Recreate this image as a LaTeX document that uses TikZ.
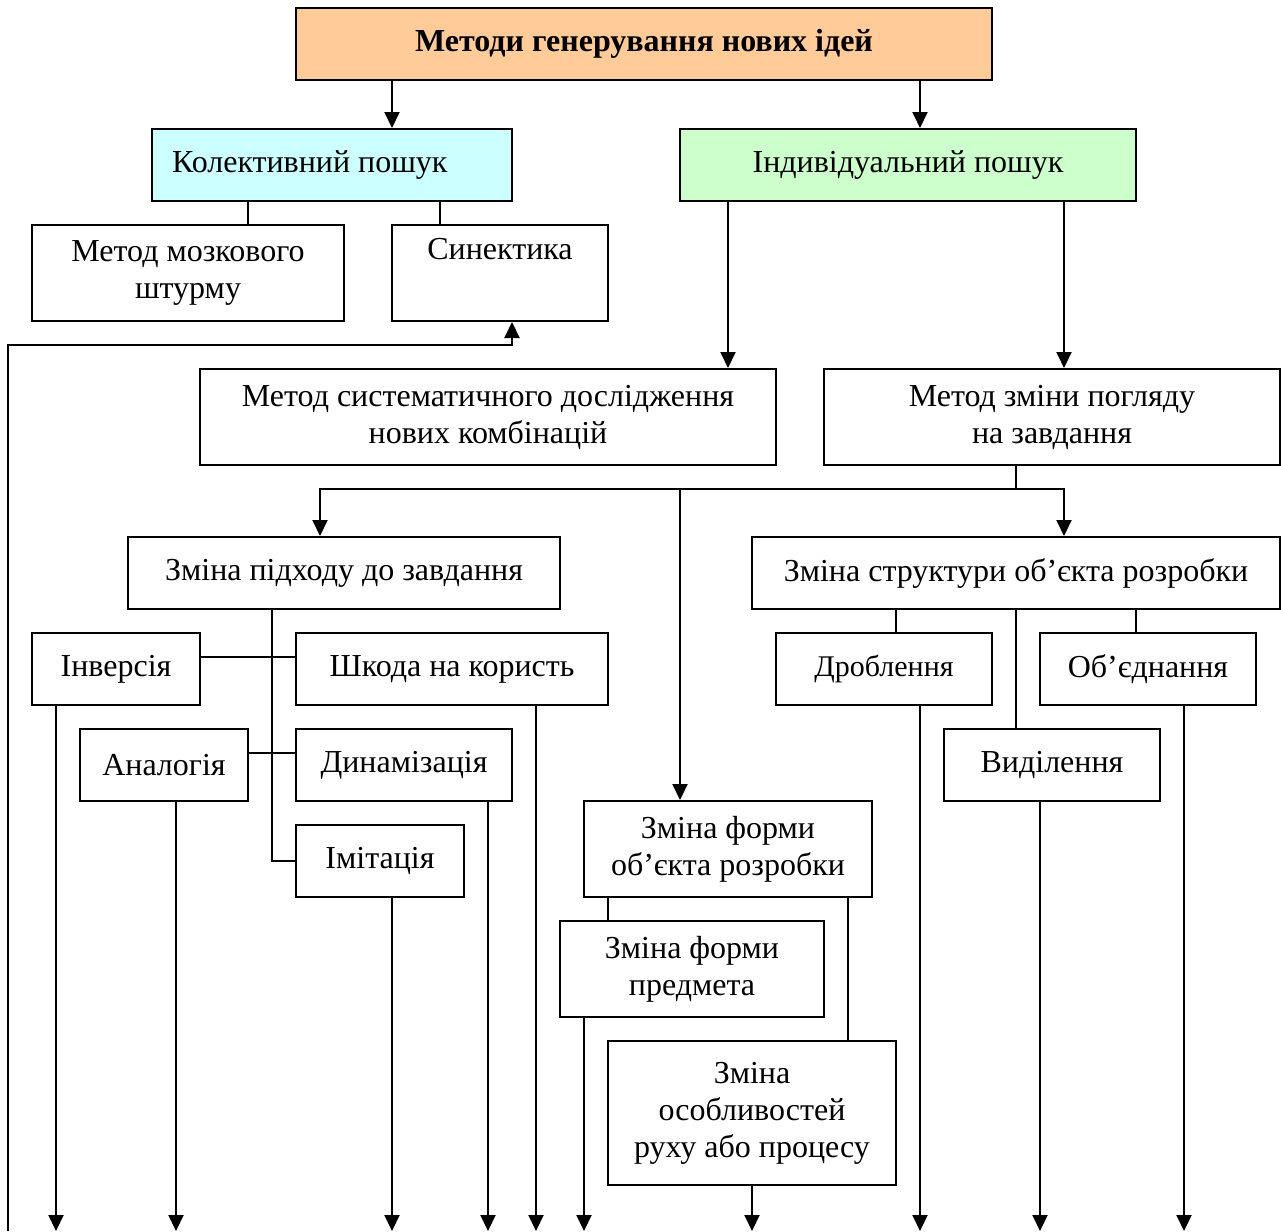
\documentclass[tikz,border=0pt]{standalone}
\usepackage{fontspec}
\setmainfont{Liberation Serif}
\usetikzlibrary{arrows.meta}

\definecolor{peach}{HTML}{FFCC99}
\definecolor{aqua}{HTML}{CCFFFF}
\definecolor{mint}{HTML}{CCFFCC}

\begin{document}
\begin{tikzpicture}
[x=1pt,y=-1pt,line width=2pt,
 every node/.style={draw,rectangle,align=center,inner sep=0pt,font=\fontsize{32}{37}\selectfont},
 arr/.style={-{Triangle[width=15pt,length=16pt]}}]
\useasboundingbox (0,0) rectangle (1281,1231);
%top level
\node[fill=peach,minimum width=696pt,minimum height=72pt,font=\bfseries\fontsize{32}{37}\selectfont] (top) at (644,44) {Методи генерування нових ідей};
\node[fill=aqua,text width=320pt,inner xsep=20pt,align=flush left,minimum height=72pt] (kol) at (332,165) {Колективний пошук};
\node[fill=mint,minimum width=456pt,minimum height=72pt] (ind) at (908,165) {Індивідуальний пошук};
\node[minimum width=312pt,minimum height=96pt] (brain) at (188,273) {Метод мозкового\\штурму};
\node[minimum width=216pt,minimum height=96pt] (sin) at (500,273) {Синектика\\\strut};
\node[minimum width=576pt,minimum height=96pt] (sys) at (488,417) {Метод систематичного дослідження\\нових комбінацій};
\node[minimum width=456pt,minimum height=96pt] (view) at (1052,417) {Метод зміни погляду\\на завдання};
%second level
\node[minimum width=432pt,minimum height=72pt] (appr) at (344,573) {Зміна підходу до завдання};
\node[minimum width=528pt,minimum height=72pt] (struct) at (1016,573) {Зміна структури об’єкта розробки};
\node[minimum width=168pt,minimum height=72pt] (inv) at (116,669) {Інверсія};
\node[minimum width=312pt,minimum height=72pt] (harm) at (452,669) {Шкода на користь};
\node[minimum width=168pt,minimum height=72pt] (anal) at (164,765) {Аналогія};
\node[minimum width=216pt,minimum height=72pt] (dyn) at (404,765) {Динамізація};
\node[minimum width=168pt,minimum height=72pt] (imit) at (380,861) {Імітація};
\node[minimum width=216pt,minimum height=72pt,font=\fontsize{30}{35}\selectfont] (frag) at (884,669) {Дроблення};
\node[minimum width=216pt,minimum height=72pt] (unite) at (1148,669) {Об’єднання};
\node[minimum width=216pt,minimum height=72pt] (sel) at (1052,765) {Виділення};
\node[minimum width=288pt,minimum height=96pt] (shape) at (728,849) {Зміна форми\\об’єкта розробки};
\node[minimum width=264pt,minimum height=96pt] (item) at (692,969) {Зміна форми\\предмета};
\node[minimum width=288pt,minimum height=144pt] (motion) at (752,1113) {Зміна\\особливостей\\руху або процесу};
\coordinate (base) at (0,1231);
\coordinate (split) at (1016,489);
%connectors
\draw[arr] (top.south -| 392,0) -- (kol.north -| 392,0);
\draw[arr] (top.south -| 920,0) -- (ind.north -| 920,0);
\draw (kol.south -| 248,0) -- (brain.north -| 248,0);
\draw (kol.south -| 440,0) -- (sin.north -| 440,0);
\draw[arr] (base -| 8,0) |- (345,345 -| 512,0) -- (sin.south -| 512,0);
\draw[arr] (ind.south -| 728,0) -- (sys.north -| 728,0);
\draw[arr] (ind.south -| 1064,0) -- (view.north -| 1064,0);
\draw (view.south -| split) -- (split);
\draw[arr] (split) -| (appr.north -| 320,0);
\draw[arr] (split) -| (struct.north -| 1064,0);
\draw[arr] (split -| 680,0) -- (shape.north -| 680,0);
\draw (appr.south -| 272,0) |- (imit.west);
\draw (inv.east |- 0,657) -- (harm.west |- 0,657);
\draw (anal.east |- 0,753) -- (dyn.west |- 0,753);
\draw (struct.south -| 896,0) -- (frag.north -| 896,0);
\draw (struct.south -| 1136,0) -- (unite.north -| 1136,0);
\draw (struct.south) -- (struct.south |- sel.north);
\draw (shape.south -| 608,0) -- (item.north -| 608,0);
\draw (shape.south -| 848,0) -- (motion.north -| 848,0);
\foreach \n/\x in {inv/56,anal/176,imit/392,dyn/488,harm/536,item/584,motion/752,frag/920,sel/1040,unite/1184}
  \draw[arr] (\n.south -| \x,0) -- (base -| \x,0);
\end{tikzpicture}
\end{document}
